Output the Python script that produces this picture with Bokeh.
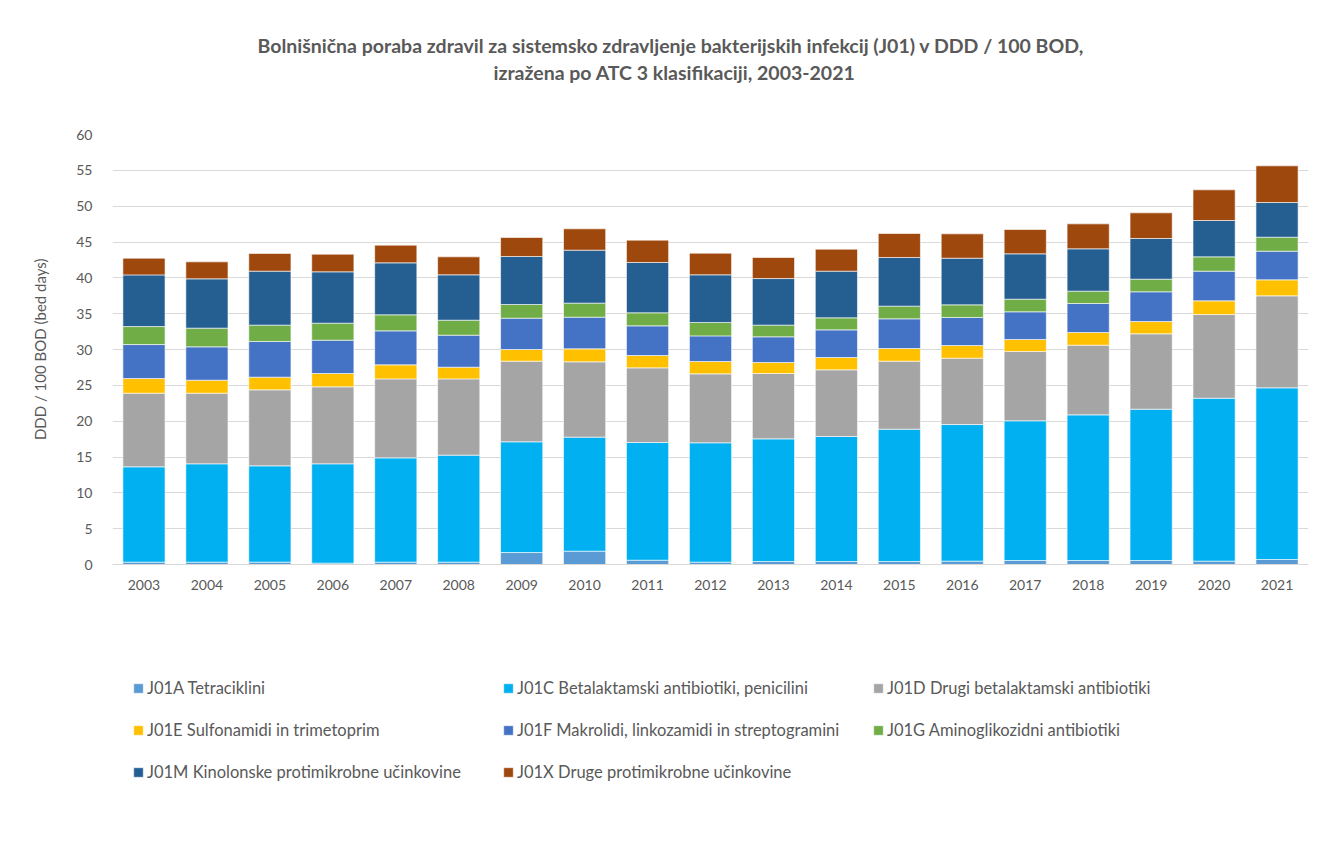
from bokeh.plotting import figure
from bokeh.models import Legend, LegendItem, FactorRange, Title, Range1d
from bokeh.embed import file_html
from bokeh.resources import INLINE

years = [str(y) for y in range(2003, 2022)]

j01a = [0.33, 0.33, 0.33, 0.19, 0.33, 0.33, 1.67, 1.86, 0.60, 0.33, 0.42, 0.42, 0.42, 0.47, 0.56, 0.56, 0.56, 0.47, 0.70]
j01c = [13.30, 13.72, 13.44, 13.86, 14.55, 14.93, 15.45, 15.91, 16.42, 16.65, 17.11, 17.44, 18.46, 19.06, 19.49, 20.32, 21.11, 22.73, 23.95]
j01d = [10.27, 9.85, 10.60, 10.74, 11.02, 10.64, 11.25, 10.51, 10.42, 9.62, 9.12, 9.30, 9.49, 9.26, 9.67, 9.72, 10.52, 11.68, 12.84]
j01e = [2.05, 1.82, 1.77, 1.86, 1.96, 1.63, 1.63, 1.81, 1.72, 1.73, 1.54, 1.72, 1.77, 1.77, 1.68, 1.77, 1.71, 1.91, 2.23]
j01f = [4.74, 4.65, 4.98, 4.65, 4.74, 4.47, 4.37, 4.42, 4.14, 3.57, 3.58, 3.86, 4.14, 3.91, 3.86, 4.05, 4.15, 4.14, 4.00]
j01g = [2.51, 2.61, 2.28, 2.37, 2.24, 2.09, 1.91, 1.96, 1.82, 1.87, 1.63, 1.68, 1.77, 1.76, 1.76, 1.72, 1.76, 2.00, 1.95]
j01m = [7.21, 6.88, 7.53, 7.17, 7.25, 6.33, 6.70, 7.39, 7.02, 6.65, 6.50, 6.51, 6.79, 6.51, 6.33, 5.91, 5.68, 5.07, 4.84]
j01x = [2.33, 2.37, 2.47, 2.46, 2.47, 2.51, 2.65, 2.98, 3.12, 3.02, 2.94, 3.07, 3.35, 3.40, 3.39, 3.48, 3.58, 4.28, 5.12]

y_ticks = list(range(0, 61, 5))

series_keys = ["j01a", "j01c", "j01d", "j01e", "j01f", "j01g", "j01m", "j01x"]
series_labels = [
    "J01A Tetraciklini",
    "J01C Betalaktamski antibiotiki, penicilini",
    "J01D Drugi betalaktamski antibiotiki",
    "J01E Sulfonamidi in trimetoprim",
    "J01F Makrolidi, linkozamidi in streptogramini",
    "J01G Aminoglikozidni antibiotiki",
    "J01M Kinolonske protimikrobne učinkovine",
    "J01X Druge protimikrobne učinkovine",
]
colors = ["#5B9BD5", "#00B0F0", "#A5A5A5", "#FFC000", "#4472C4", "#70AD47", "#255E91", "#9E480E"]

title_lines = [
    "Bolnišnična poraba zdravil za sistemsko zdravljenje bakterijskih infekcij (J01) v DDD / 100 BOD,",
    "izražena po ATC 3 klasifikaciji, 2003-2021",
]
y_label = "DDD / 100 BOD (bed days)"

FONT = "Lato"
TXT = "#595959"

data = dict(years=years, j01a=j01a, j01c=j01c, j01d=j01d, j01e=j01e,
            j01f=j01f, j01g=j01g, j01m=j01m, j01x=j01x)

# the frame reaches down to hold the legend; value axis runs 0..60 over 430 px
p = figure(x_range=FactorRange(*years), y_range=Range1d(-32.93, 60),
           frame_width=1196, frame_height=666, output_backend="svg", toolbar_location=None,
           min_border_left=112, min_border_right=17, min_border_top=134, min_border_bottom=30)

renderers = p.vbar_stack(series_keys, x="years", width=0.67, color=colors,
                         line_color="white", line_width=0.6, source=data)

p.outline_line_color = None
p.xgrid.grid_line_color = None
p.ygrid.grid_line_color = "#D9D9D9"
p.ygrid.grid_line_width = 1
p.yaxis.ticker = y_ticks
for ax in (p.xaxis, p.yaxis):
    ax.major_tick_line_color = None
    ax.minor_tick_line_color = None
    ax.major_label_text_font = FONT
    ax.major_label_text_font_size = "14px"
    ax.major_label_text_color = TXT
p.yaxis.axis_line_color = None
p.xaxis.axis_line_color = "#D9D9D9"
p.xaxis.fixed_location = 0
p.yaxis.major_label_standoff = 14
p.xaxis.major_label_standoff = 9

# value-axis title, anchored near the top of the frame so it centres on the 0..60 scale
p.add_layout(Title(text=y_label, align="right", offset=124, standoff=50,
                   text_font=FONT, text_font_size="15px", text_font_style="normal",
                   text_color=TXT), "left")

# above panel: spacer nearest the plot, then title line 2, then line 1
p.add_layout(Title(text=" ", standoff=37, text_font_size="10px"), "above")
p.add_layout(Title(text=title_lines[1], align="left", offset=381, standoff=2,
                   text_font=FONT, text_font_size="19.5px", text_font_style="bold",
                   text_color=TXT), "above")
p.add_layout(Title(text=title_lines[0], align="left", offset=145, standoff=2,
                   text_font=FONT, text_font_size="19.5px", text_font_style="bold",
                   text_color=TXT), "above")

items = [LegendItem(label=lab, renderers=[r]) for r, lab in zip(renderers, series_labels)]
legend = Legend(items=items, ncols=3, orientation="horizontal",
                location=(20, 18), padding=0, margin=0, border_line_color=None,
                background_fill_alpha=0, glyph_width=12, glyph_height=12,
                label_height=20, label_width=333, label_standoff=3, spacing=22,
                label_text_font=FONT, label_text_font_size="16.5px",
                label_text_color=TXT)
p.add_layout(legend, "center")

open("out.html", "w").write(file_html(p, INLINE))
